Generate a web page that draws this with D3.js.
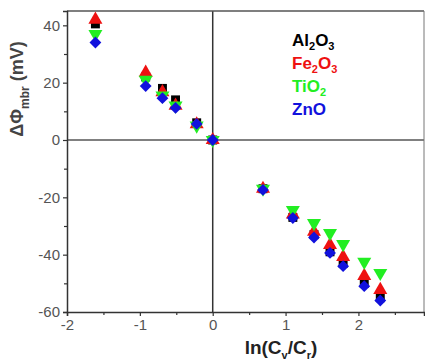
<!DOCTYPE html>
<html>
<head>
<meta charset="utf-8">
<script src="https://cdn.jsdelivr.net/npm/d3@7"></script>
<style>
	body { margin: 0; background: #fff; }
	svg { display: block; font-family: Arial, "Liberation Sans", sans-serif; }
</style>
</head>
<body>
<svg id="chart" width="425" height="360"></svg>
<script>
// ln(Cv/Cr) positions
const ln_ratio = [-1.61, -0.92, -0.69, -0.51, -0.22, 0, 0.69, 1.10, 1.39, 1.61, 1.79, 2.08, 2.30];

const al2o3 = [40.5, 22, 18, 14, 6, 0, -17, -27, -33, -39, -43, -50, -55];
const fe2o3 = [42, 23.5, 16.7, 12, 5.5, 0, -17, -26, -32, -36.6, -40.8, -47.4, -52.3];
const tio2 = [37, 21, 15.5, 12, 5, 0, -17, -24.4, -29, -32.5, -36.3, -42.5, -46.4];
const zno = [34, 18.8, 14.6, 11.2, 5.6, 0, -17.4, -27.2, -34, -39.4, -44, -51, -56];

const x_ticks = [-2, -1, 0, 1, 2];
const y_ticks = [-60, -40, -20, 0, 20, 40];

const series = [
	{sub: ['Al', '2', 'O', '3'], values: al2o3, color: '#000000', symbol: d3.symbolSquare, size: 80, rotate: 0},
	{sub: ['Fe', '2', 'O', '3'], values: fe2o3, color: '#ee1111', symbol: d3.symbolTriangle, size: 85, rotate: 0},
	{sub: ['TiO', '2'], values: tio2, color: '#22ee22', symbol: d3.symbolTriangle, size: 85, rotate: 180},
	{sub: ['ZnO'], values: zno, color: '#1111dd', symbol: d3.symbolSquare, size: 70, rotate: 45}
];

const svg = d3.select('#chart');

const x = d3.scaleLinear().domain([-2, 2.9]).range([67, 424]);
const y = d3.scaleLinear().domain([-60, 45]).range([312, 11]);

const axis_color = '#333';
const label_color = '#555';
const fmt = d => String(d);

// zero lines
svg.append('line')
	.attr('x1', x(-2)).attr('x2', x(2.9))
	.attr('y1', y(0)).attr('y2', y(0))
	.attr('stroke', '#808080').attr('stroke-width', 2);

svg.append('line')
	.attr('x1', x(0)).attr('x2', x(0))
	.attr('y1', y(45)).attr('y2', y(-60))
	.attr('stroke', '#333').attr('stroke-width', 1.5);

// frame top / right
svg.append('line')
	.attr('x1', x(-2)).attr('x2', x(2.9))
	.attr('y1', y(45)).attr('y2', y(45))
	.attr('stroke', '#555').attr('stroke-width', 1.5);
svg.append('line')
	.attr('x1', x(2.9)).attr('x2', x(2.9))
	.attr('y1', y(45)).attr('y2', y(-60))
	.attr('stroke', '#777').attr('stroke-width', 1);

// axes
svg.append('g')
	.attr('transform', `translate(0,${y(-60)})`)
	.call(d3.axisBottom(x).tickValues(x_ticks).tickSize(4).tickPadding(3).tickFormat(fmt));

svg.append('g')
	.attr('transform', `translate(0,${y(-60)})`)
	.call(d3.axisBottom(x).tickValues([-1.5, -0.5, 0.5, 1.5, 2.5]).tickSize(3).tickFormat(''))
	.call(g => g.select('.domain').remove());

svg.append('g')
	.attr('transform', `translate(${x(-2)},0)`)
	.call(d3.axisLeft(y).tickValues(y_ticks).tickSize(4).tickPadding(3).tickFormat(fmt));

svg.append('g')
	.attr('transform', `translate(${x(-2)},0)`)
	.call(d3.axisLeft(y).tickValues([-50, -30, -10, 10, 30]).tickSize(3).tickFormat(''))
	.call(g => g.select('.domain').remove());

svg.selectAll('.domain').attr('stroke', axis_color).attr('stroke-width', 1.5);
svg.selectAll('.tick line').attr('stroke', axis_color).attr('stroke-width', 1.2);
svg.selectAll('.tick text')
	.attr('fill', label_color)
	.style('font-size', '15px')
	.style('font-family', 'Arial, "Liberation Sans", sans-serif');

// markers
series.forEach(s => {
	svg.append('g')
		.selectAll('path')
		.data(s.values)
		.join('path')
		.attr('d', d3.symbol().type(s.symbol).size(s.size))
		.attr('transform', (d, i) => `translate(${x(ln_ratio[i])},${y(d)}) rotate(${s.rotate})`)
		.attr('fill', s.color);
});

// legend
series.forEach((s, i) => {
	const t = svg.append('text')
		.attr('x', 292)
		.attr('y', 46 + i * 23)
		.attr('fill', s.color)
		.style('font-size', '17px')
		.style('font-weight', 'bold');
	s.sub.forEach((part, j) => {
		const is_sub = /^\d$/.test(part);
		t.append('tspan')
			.attr('dy', is_sub ? 4 : (j > 0 ? -4 : 0))
			.style('font-size', is_sub ? '11px' : '17px')
			.text(part);
	});
});

// x label
const xl = svg.append('text')
	.attr('x', 281)
	.attr('y', 354)
	.attr('text-anchor', 'middle')
	.attr('fill', '#222')
	.style('font-size', '19px')
	.style('font-weight', 'bold');
xl.append('tspan').text('ln(C');
xl.append('tspan').attr('dy', 5).style('font-size', '11px').text('v');
xl.append('tspan').attr('dy', -5).text('/C');
xl.append('tspan').attr('dy', 5).style('font-size', '11px').text('r');
xl.append('tspan').attr('dy', -5).text(')');

// y label
const yl = svg.append('text')
	.attr('transform', 'translate(23,89) rotate(-90)')
	.attr('text-anchor', 'middle')
	.attr('fill', '#444')
	.style('font-size', '18px')
	.style('font-weight', 'bold');
yl.append('tspan').text('ΔΦ');
yl.append('tspan').attr('dy', 6).style('font-size', '12px').text('mbr');
yl.append('tspan').attr('dy', -6).text(' (mV)');
</script>
</body>
</html>
